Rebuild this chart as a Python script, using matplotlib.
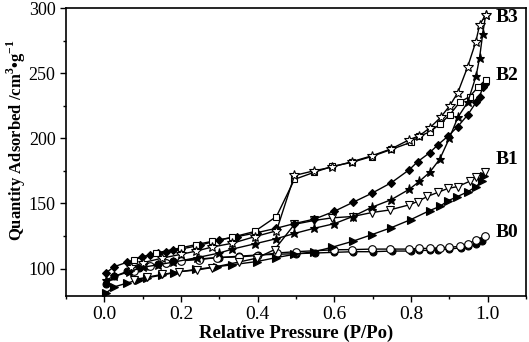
import numpy as np
import matplotlib.pyplot as plt
from matplotlib.ticker import MultipleLocator

plt.rcParams['font.family'] = ['Liberation Serif', 'DejaVu Serif']
plt.rcParams['mathtext.fontset'] = 'custom'
plt.rcParams['mathtext.rm'] = 'Liberation Serif:bold'
plt.rcParams['mathtext.bf'] = 'Liberation Serif:bold'

# B0: adsorcion (circulos llenos) / desorcion (circulos vacios)
b0_ads_p = [0.005, 0.026, 0.06, 0.09, 0.112, 0.14, 0.16, 0.18, 0.2, 0.25, 0.3, 0.35, 0.4, 0.45, 0.5,
            0.55, 0.6, 0.65, 0.7, 0.75, 0.8, 0.82, 0.85, 0.87, 0.9, 0.93, 0.95, 0.97, 0.985]
b0_ads_v = [88, 94, 98, 100.5, 102, 103.5, 104.5, 105.5, 106.5, 107.5, 108.5, 109.5, 110.5, 111, 111.5,
            112, 112.5, 113, 113, 113.5, 113.5, 114, 114, 114.5, 115, 116, 117, 119, 121]
b0_des_p = [0.992, 0.97, 0.948, 0.927, 0.9, 0.875, 0.85, 0.82, 0.796, 0.744, 0.697, 0.647, 0.6, 0.5,
            0.45, 0.397, 0.35, 0.295, 0.248, 0.2, 0.16, 0.12, 0.078]
b0_des_v = [125, 122, 119, 117, 116.5, 116, 115.5, 115.5, 115, 115, 115, 114.6, 114.5, 113, 112, 110,
            109, 108.5, 107, 106, 104, 102, 98]

# B1: adsorcion (triangulos derecha llenos) / desorcion (triangulos abajo vacios)
b1_ads_p = [0.005, 0.026, 0.06, 0.09, 0.112, 0.15, 0.183, 0.24, 0.295, 0.334, 0.397, 0.449, 0.496,
            0.548, 0.595, 0.648, 0.697, 0.749, 0.8, 0.849, 0.875, 0.896, 0.919, 0.948, 0.97, 0.984, 0.99]
b1_ads_v = [81.5, 86, 89, 91.5, 93, 95, 97, 99.5, 101.5, 103, 105.4, 108.5, 111,
            113, 116.5, 121, 126, 131.5, 137.7, 144.6, 147.7, 152, 155, 159, 163, 167, 171]
b1_des_p = [0.992, 0.97, 0.953, 0.922, 0.896, 0.87, 0.843, 0.817, 0.796, 0.744, 0.697, 0.648, 0.595,
            0.548, 0.496, 0.444, 0.397, 0.35, 0.28, 0.243, 0.196, 0.15, 0.112, 0.078]
b1_des_v = [174, 170, 167, 163, 161.5, 158.5, 155.4, 151.5, 149, 145, 143, 140, 139,
            137, 134, 114.6, 108, 105, 100.8, 99, 97.7, 95.5, 93.5, 91.5]

# B2: adsorcion (rombos llenos) / desorcion (cuadrados vacios)
b2_ads_p = [0.005, 0.026, 0.06, 0.097, 0.12, 0.14, 0.16, 0.178, 0.2, 0.25, 0.3, 0.347, 0.397, 0.449,
            0.496, 0.548, 0.6, 0.648, 0.697, 0.749, 0.796, 0.817, 0.849, 0.87, 0.896, 0.922, 0.948,
            0.97, 0.979, 0.987, 0.992]
b2_ads_v = [97, 101.5, 105, 109, 110.5, 112, 113, 114, 115, 118, 122, 124.6, 127.5, 131,
            134.6, 138, 144, 150.8, 157.7, 166, 176, 182, 189, 195, 201.5, 209, 218,
            227.7, 232, 239, 241.5]
b2_des_p = [0.995, 0.974, 0.953, 0.927, 0.901, 0.875, 0.849, 0.822, 0.8, 0.749, 0.697, 0.645, 0.595,
            0.548, 0.496, 0.449, 0.392, 0.332, 0.282, 0.24, 0.2, 0.136, 0.078]
b2_des_v = [245, 239, 232, 227.7, 218, 210.7, 205, 201.5, 197, 191.5, 186, 181.5, 178.5,
            174, 168.5, 140, 128.5, 124, 121, 118.5, 116, 112, 107]

# B3: adsorcion (estrellas llenas) / desorcion (estrellas vacias)
b3_ads_p = [0.005, 0.026, 0.065, 0.1, 0.14, 0.18, 0.243, 0.3, 0.334, 0.392, 0.449, 0.496, 0.548,
            0.6, 0.648, 0.697, 0.749, 0.796, 0.822, 0.849, 0.875, 0.9, 0.922, 0.948, 0.97, 0.979,
            0.987, 0.995]
b3_ads_v = [91.5, 94, 97.7, 101, 103, 105, 108.5, 112, 115, 119, 123, 127, 131,
            134.5, 140, 147, 153, 161, 167, 174, 184, 200, 216, 227.7, 248, 262,
            280, 295]
b3_des_p = [0.995, 0.979, 0.969, 0.948, 0.922, 0.901, 0.877, 0.849, 0.822, 0.796, 0.749, 0.697,
            0.645, 0.595, 0.546, 0.496, 0.449, 0.392, 0.334, 0.28, 0.24, 0.2, 0.15, 0.1, 0.07]
b3_des_v = [295, 287, 274, 255, 235, 225, 216, 208, 202, 199, 192, 186.5,
            182, 178, 175, 171.5, 129, 124.5, 119.5, 116.5, 113.5, 111, 108, 104.5, 101]

sample_names = ['B0', 'B1', 'B2', 'B3']
label_values = [128, 184, 248, 293]

fig = plt.figure(figsize=(5.29, 3.42), dpi=100)
ax = fig.add_axes([0.1248, 0.1345, 0.8695, 0.8421])

kw = dict(color='black', linewidth=1.0, markeredgecolor='black', markeredgewidth=0.8)
ax.plot(b0_ads_p, b0_ads_v, marker='o', markersize=5, markerfacecolor='black', **kw)
ax.plot(b0_des_p, b0_des_v, marker='o', markersize=5.5, markerfacecolor='white', **kw)
ax.plot(b1_ads_p, b1_ads_v, marker='>', markersize=5.5, markerfacecolor='black', **kw)
ax.plot(b1_des_p, b1_des_v, marker='v', markersize=6, markerfacecolor='white', **kw)
ax.plot(b2_ads_p, b2_ads_v, marker='D', markersize=4.5, markerfacecolor='black', **kw)
ax.plot(b2_des_p, b2_des_v, marker='s', markersize=5, markerfacecolor='white', **kw)
ax.plot(b3_ads_p, b3_ads_v, marker='*', markersize=6.5, markerfacecolor='black', **kw)
ax.plot(b3_des_p, b3_des_v, marker='*', markersize=7, markerfacecolor='white', **kw)

for name, v in zip(sample_names, label_values):
    ax.text(1.02, v, name, fontsize=14, fontweight='bold', ha='left', va='center')

ax.set_xlim(-0.1, 1.1)
ax.set_ylim(79, 300)
ax.xaxis.set_major_locator(MultipleLocator(0.2))
ax.xaxis.set_minor_locator(MultipleLocator(0.1))
ax.yaxis.set_major_locator(MultipleLocator(50))
ax.yaxis.set_minor_locator(MultipleLocator(25))
ax.set_xticks([0.0, 0.2, 0.4, 0.6, 0.8, 1.0])
ax.set_xticklabels(['0.0', '0.2', '0.4', '0.6', '0.8', '1.0'])
ax.set_yticks([100, 150, 200, 250, 300])
ax.tick_params(which='both', direction='out', top=False, right=False, width=1)
ax.tick_params(axis='x', labelsize=14)
ax.tick_params(axis='y', labelsize=13)
ax.tick_params(which='major', length=4)
ax.tick_params(which='minor', length=2.5)
for s in ax.spines.values():
    s.set_linewidth(1.2)

ax.set_xlabel('Relative Pressure (P/Po)', fontsize=13.5, fontweight='bold', labelpad=1)
ax.set_ylabel(r'Quantity Adsorbed /cm$^{3}$•g$^{-1}$', fontsize=12, fontweight='bold')
ax.yaxis.set_label_coords(-0.082, 0.54)

fig.savefig('out.png', dpi=100)
